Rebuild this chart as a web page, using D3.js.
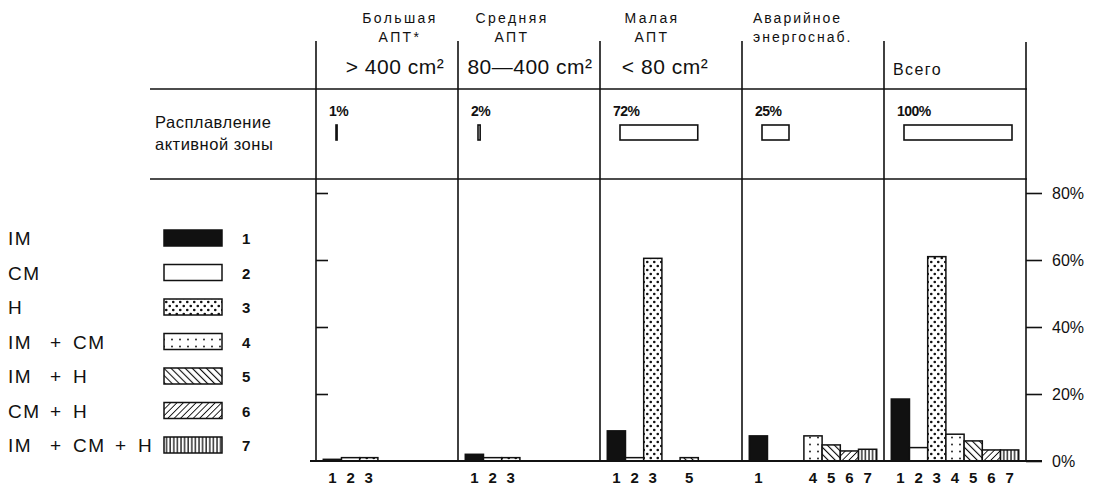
<!DOCTYPE html>
<html>
<head>
<meta charset="utf-8">
<script src="https://cdn.jsdelivr.net/npm/d3@7"></script>
<style>
body { margin: 0; background: #fff; }
text { font-family: "Liberation Sans", Arial, sans-serif; fill: #111; }
</style>
</head>
<body>
<svg id="chart"></svg>
<script>
// data
let panelNames = ["big", "medium", "small", "emergency", "total"]
let titleLines = [["Большая", "АПТ*"], ["Средняя", "АПТ"], ["Малая", "АПТ"], ["Аварийное", "энергоснаб."], []]
let sizeLabels = ["> 400 cm²", "80—400 cm²", "< 80 cm²", "", "Всего"]
let meltShares = [1, 2, 72, 25, 100]
let categories = ["1", "2", "3", "4", "5", "6", "7"]
let legendLabels = ["IM", "CM", "H", "IM + CM", "IM + H", "CM + H", "IM + CM + H"]
let bigValues = [0.5, 1, 1, 0, 0, 0, 0]
let mediumValues = [2, 1, 1, 0, 0, 0, 0]
let smallValues = [9, 1, 60.5, 0, 1, 0, 0]
let emergencyValues = [7.5, 0, 0, 7.5, 4.8, 3, 3.5]
let totalValues = [18.5, 4, 61, 8, 6, 3.3, 3.3]
let yTicks = [0, 20, 40, 60, 80]

let panelValues = [bigValues, mediumValues, smallValues, emergencyValues, totalValues]

let width = 1097
let height = 485
let ink = '#111'

let svg = d3.select('#chart').attr('width', width).attr('height', height)

// patterns for the seven categories
let defs = svg.append('defs')
let fills = []

let addPattern = (id, w, h, draw, transform) => {
    let p = defs.append('pattern')
        .attr('id', id)
        .attr('patternUnits', 'userSpaceOnUse')
        .attr('width', w)
        .attr('height', h)
    if (transform) p.attr('patternTransform', transform)
    p.append('rect').attr('width', w).attr('height', h).attr('fill', '#fff')
    draw(p)
    return `url(#${id})`
}

fills.push(ink)
fills.push('#fff')
fills.push(addPattern('dense', 7, 8, (p) => {
    p.append('circle').attr('cx', 1.75).attr('cy', 2).attr('r', 1.3).attr('fill', ink)
    p.append('circle').attr('cx', 5.25).attr('cy', 6).attr('r', 1.3).attr('fill', ink)
}))
fills.push(addPattern('sparse', 8, 7, (p) => {
    p.append('circle').attr('cx', 4).attr('cy', 3.5).attr('r', 0.9).attr('fill', ink)
}))
fills.push(addPattern('back', 5, 5, (p) => {
    p.append('line').attr('x1', 0).attr('x2', 0).attr('y1', 0).attr('y2', 5)
        .attr('stroke', ink).attr('stroke-width', 2.2)
}, 'rotate(-45)'))
fills.push(addPattern('fwd', 4.5, 4.5, (p) => {
    p.append('line').attr('x1', 0).attr('x2', 0).attr('y1', 0).attr('y2', 4.5)
        .attr('stroke', ink).attr('stroke-width', 1.8)
}, 'rotate(45)'))
fills.push(addPattern('vert', 3.6, 4, (p) => {
    p.append('line').attr('x1', 1).attr('x2', 1).attr('y1', 0).attr('y2', 4)
        .attr('stroke', ink).attr('stroke-width', 1.3)
}))

// scales
let panelScale = d3.scaleBand()
    .domain(panelNames)
    .range([316, 1026])

let barScale = d3.scaleBand()
    .domain(categories)
    .range([0, panelScale.bandwidth()])
    .paddingOuter(0.4)

let yScale = d3.scaleLinear()
    .domain([0, 80])
    .range([461, 193])

let shareScale = d3.scaleLinear()
    .domain([0, 100])
    .range([0, 108])

// table grid
let grid = svg.append('g').attr('stroke', ink).attr('stroke-width', 1.6)

grid.append('line').attr('x1', 150).attr('x2', 1027).attr('y1', 89).attr('y2', 89)
grid.append('line').attr('x1', 150).attr('x2', 1027).attr('y1', 179).attr('y2', 179)

panelNames.forEach((name) => {
    let x0 = panelScale(name)
    grid.append('line').attr('x1', x0).attr('x2', x0).attr('y1', 41).attr('y2', yScale(0))
})
grid.append('line').attr('x1', 1026).attr('x2', 1026).attr('y1', 42).attr('y2', yScale(0))

// headers
panelNames.forEach((name, i) => {
    let x0 = panelScale(name)
    let mid = x0 + panelScale.bandwidth() / 2
    let leftAligned = i >= 3
    let titleDx = [13, -17, -19][i]
    let sizeDx = [8, 1, -6][i]

    titleLines[i].forEach((line, j) => {
        svg.append('text')
            .attr('x', leftAligned ? x0 + 11 : mid + titleDx)
            .attr('y', 23 + j * 19)
            .attr('text-anchor', leftAligned ? 'start' : 'middle')
            .style('font-size', '14px')
            .style('letter-spacing', leftAligned ? '2px' : '2.4px')
            .text(line)
    })

    if (sizeLabels[i] !== '') {
        if (i === 4) {
            svg.append('text')
                .attr('x', x0 + 9)
                .attr('y', 75)
                .style('font-size', '16px')
                .style('letter-spacing', '1.4px')
                .text(sizeLabels[i])
        } else {
            svg.append('text')
                .attr('x', mid + sizeDx)
                .attr('y', 74)
                .attr('text-anchor', 'middle')
                .style('font-size', '21px')
                .style('letter-spacing', '0.5px')
                .text(sizeLabels[i])
        }
    }

    // core-melt share row
    svg.append('text')
        .attr('x', x0 + 13)
        .attr('y', 116)
        .style('font-size', '14px')
        .style('font-weight', 'bold')
        .style('letter-spacing', '-0.5px')
        .text(meltShares[i] + '%')

    svg.append('rect')
        .attr('x', x0 + 20)
        .attr('y', 125)
        .attr('width', shareScale(meltShares[i]))
        .attr('height', 15)
        .attr('fill', '#fff')
        .attr('stroke', ink)
        .attr('stroke-width', 1.6)
})

svg.append('text').attr('x', 155).attr('y', 128)
    .style('font-size', '16.5px').style('letter-spacing', '0.5px').text('Расплавление')
svg.append('text').attr('x', 155).attr('y', 150)
    .style('font-size', '16.5px').style('letter-spacing', '0.5px').text('активной зоны')

// bars
panelNames.forEach((name, i) => {
    let x0 = panelScale(name)
    let g = svg.append('g').attr('transform', `translate(${x0}, 0)`)
    let rows = categories.map((c, k) => ({ cat: c, value: panelValues[i][k], k: k }))
        .filter((d) => d.value > 0)

    g.selectAll('rect')
        .data(rows)
        .enter()
        .append('rect')
        .attr('x', (d) => barScale(d.cat))
        .attr('width', barScale.bandwidth())
        .attr('y', (d) => yScale(d.value))
        .attr('height', (d) => yScale(0) - yScale(d.value))
        .attr('fill', (d) => fills[d.k])
        .attr('stroke', ink)
        .attr('stroke-width', 1.5)

    g.selectAll('text')
        .data(rows)
        .enter()
        .append('text')
        .attr('x', (d) => barScale(d.cat) + barScale.bandwidth() / 2)
        .attr('y', 483)
        .attr('text-anchor', 'middle')
        .style('font-size', '15px')
        .style('font-weight', 'bold')
        .text((d) => d.cat)
})

// baseline
svg.append('line')
    .attr('x1', 310).attr('x2', 1042)
    .attr('y1', yScale(0)).attr('y2', yScale(0))
    .attr('stroke', ink).attr('stroke-width', 1.8)

// right axis
let yAxis = d3.axisRight(yScale)
    .tickValues(yTicks)
    .tickFormat((d) => d + '%')
    .tickSize(16)
    .tickPadding(10)

let axisG = svg.append('g')
    .attr('transform', 'translate(1026, 0)')
    .call(yAxis)
axisG.select('.domain').remove()
axisG.selectAll('line').attr('stroke', ink).attr('stroke-width', 1.6)
axisG.selectAll('text')
    .style('font-family', '"Liberation Sans", Arial, sans-serif')
    .style('font-size', '16px')
    .attr('fill', ink)

// ticks on the first panel's left line
let leftTicks = svg.append('g')
    .attr('transform', `translate(${panelScale(panelNames[0])}, 0)`)
    .call(d3.axisRight(yScale).tickValues(yTicks.slice(1)).tickSize(12).tickFormat(''))
leftTicks.select('.domain').remove()
leftTicks.selectAll('line').attr('stroke', ink).attr('stroke-width', 1.6)

// legend
let legend = svg.append('g')
legendLabels.forEach((label, i) => {
    let cy = 238 + i * 34.5
    let parts = label.split(' + ')
    parts.forEach((part, j) => {
        legend.append('text')
            .attr('x', 8 + j * 65)
            .attr('y', cy + 7)
            .style('font-size', '19px')
            .style('letter-spacing', '1.5px')
            .text(part)
        if (j < parts.length - 1) {
            legend.append('text')
                .attr('x', 50 + j * 65)
                .attr('y', cy + 7)
                .style('font-size', '19px')
                .text('+')
        }
    })
    legend.append('rect')
        .attr('x', 164)
        .attr('y', cy - 8)
        .attr('width', 58)
        .attr('height', 16)
        .attr('fill', fills[i])
        .attr('stroke', ink)
        .attr('stroke-width', 1.5)
    legend.append('text')
        .attr('x', 242)
        .attr('y', cy + 6)
        .style('font-size', '15px')
        .style('font-weight', 'bold')
        .text(categories[i])
})
</script>
</body>
</html>
